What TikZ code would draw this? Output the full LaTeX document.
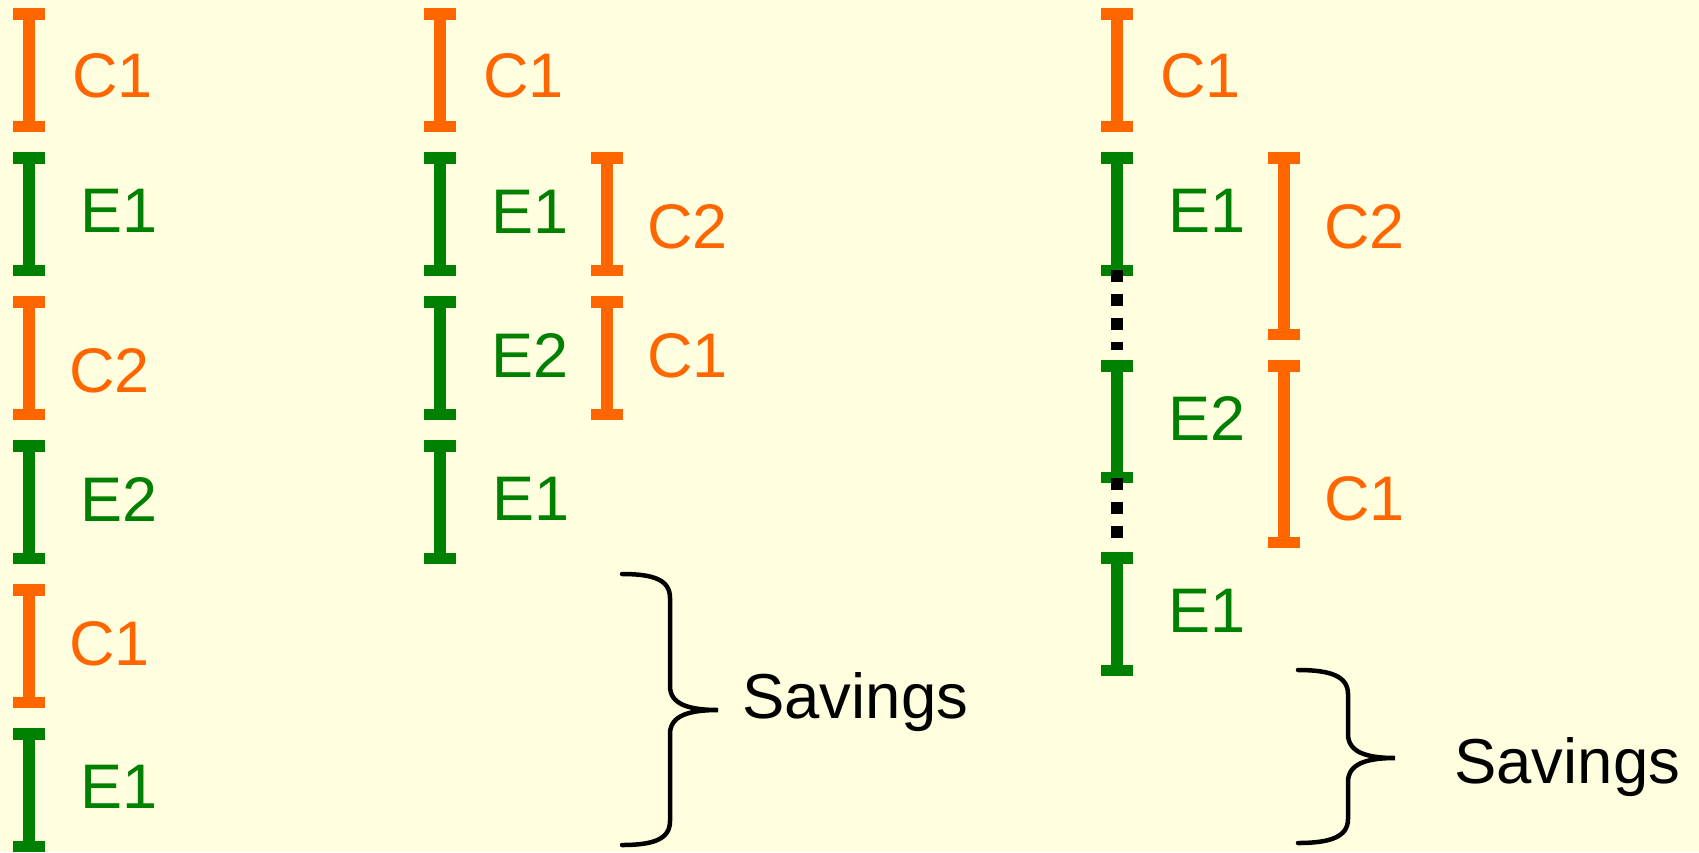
\documentclass[tikz,border=0pt]{standalone}
\usepackage{fontspec}
\setmainfont{Liberation Sans}
\definecolor{bgc}{HTML}{FFFFE0}
\definecolor{org}{HTML}{FF6600}
\definecolor{grn}{HTML}{008000}
\newcommand\ibeam[4]{% color, x, ytop, ybot
  \fill[#1] ({#2-6},#3) rectangle ({#2+6},#4);
  \fill[#1] ({#2-16},#3) rectangle ({#2+16},{#3+11.5});
  \fill[#1] ({#2-16},{#4-11.5}) rectangle ({#2+16},#4);
}
\newcommand\mybrace[6]{% xl, xv, xt, ytop, ymid, ybot
  \draw[bracestyle] (#1,#4) .. controls ({#1+32},#4) and (#2,{#4+6}) .. (#2,{#4+24})
    -- (#2,{#5-24}) .. controls (#2,{#5-6}) and ({#2+18},#5) .. (#3,#5)
    .. controls ({#2+18},#5) and (#2,{#5+6}) .. (#2,{#5+24})
    -- (#2,{#6-24}) .. controls (#2,{#6-6}) and ({#1+32},#6) .. (#1,#6);
}
\tikzset{
  lbl/.style={anchor=base west, inner sep=0pt, font=\fontsize{63}{63}\selectfont},
  clbl/.style={lbl, text=org},
  elbl/.style={lbl, text=grn},
  slbl/.style={anchor=base west, inner sep=0pt, font=\fontsize{63.5}{63.5}\selectfont, text=black},
  bracestyle/.style={draw=black, line width=4.5pt, line cap=round},
  dots/.style={draw=black, line width=12pt, dash pattern=on 12pt off 12pt}
}
\begin{document}
\begin{tikzpicture}[x=1pt,y=-1pt]
\fill[bgc] (0,0) rectangle (1699,852);
\useasboundingbox (0,0) rectangle (1699,852);
% column 1
\ibeam{org}{29}{8}{132}
\ibeam{grn}{29}{152}{276}
\ibeam{org}{29}{296}{420}
\ibeam{grn}{29}{440}{564}
\ibeam{org}{29}{584}{708}
\ibeam{grn}{29}{728}{852}
\node[clbl] (a1) at (72,97) {C1};
\node[elbl] (a2) at (80,232) {E1};
\node[clbl] (a3) at (69,392) {C2};
\node[elbl] (a4) at (80,521) {E2};
\node[clbl] (a5) at (69,665) {C1};
\node[elbl] (a6) at (80,808) {E1};
% column 2
\ibeam{org}{440}{8}{132}
\ibeam{grn}{440}{152}{276}
\ibeam{grn}{440}{296}{420}
\ibeam{grn}{440}{440}{564}
\ibeam{org}{607}{152}{276}
\ibeam{org}{607}{296}{420}
\node[clbl] (b1) at (483,97) {C1};
\node[elbl] (b2) at (491,233) {E1};
\node[elbl] (b3) at (491,377) {E2};
\node[elbl] (b4) at (492,520) {E1};
\node[clbl] (b5) at (647,248) {C2};
\node[clbl] (b6) at (647,377) {C1};
\mybrace{622}{670}{718}{574}{710}{845}
\node[slbl] (s1) at (742,718) {Savings};
% column 3
\ibeam{org}{1117}{8}{132}
\ibeam{grn}{1117}{152}{276}
\ibeam{grn}{1117}{360}{483}
\ibeam{grn}{1117}{552}{676}
\ibeam{org}{1284}{152}{340}
\ibeam{org}{1284}{360}{548}
\draw[dots] (1117,270) -- (1117,350);
\draw[dots] (1117,478) -- (1117,538);
\node[clbl] (c1) at (1160,97) {C1};
\node[elbl] (c2) at (1168,232) {E1};
\node[elbl] (c3) at (1168,440) {E2};
\node[elbl] (c4) at (1168,632) {E1};
\node[clbl] (c5) at (1324,248) {C2};
\node[clbl] (c6) at (1324,520) {C1};
\mybrace{1298}{1348}{1395}{670}{758}{843}
\node[slbl] (s2) at (1454,783) {Savings};
\end{tikzpicture}
\end{document}
